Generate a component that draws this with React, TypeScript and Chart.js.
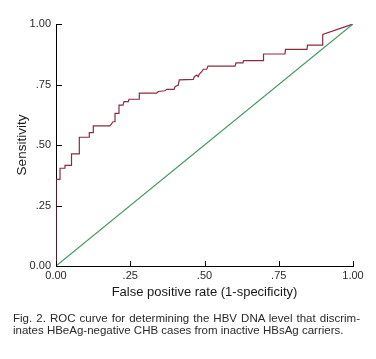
import React, { useEffect, useRef } from "react";
import { Chart, registerables } from "chart.js";

Chart.register(...registerables);

// ROC curve points (false positive rate, sensitivity)
const rocFpr = [
  0, 0, 0.0135, 0.0135, 0.0303, 0.0303, 0.0522, 0.0522, 0.0785, 0.0785,
  0.1121, 0.1121, 0.1256, 0.1256, 0.1818, 0.1919, 0.1987, 0.1987, 0.2121, 0.2121,
  0.2256, 0.229, 0.2434, 0.2458, 0.2805, 0.2805, 0.339, 0.3444, 0.367, 0.3727,
  0.3973, 0.4007, 0.4118, 0.4152, 0.4623, 0.4657, 0.4737, 0.4791, 0.4825, 0.4906,
  0.496, 0.5074, 0.5118, 0.6027, 0.6061, 0.6296, 0.6313, 0.697, 0.6987, 0.771,
  0.7727, 0.845, 0.8468, 0.8973, 0.898, 1,
];
const rocTpr = [
  0, 0.358, 0.358, 0.404, 0.404, 0.416, 0.416, 0.463, 0.463, 0.532,
  0.532, 0.551, 0.551, 0.579, 0.579, 0.596, 0.596, 0.631, 0.631, 0.665,
  0.665, 0.679, 0.679, 0.689, 0.689, 0.714, 0.714, 0.721, 0.724, 0.73,
  0.73, 0.741, 0.748, 0.769, 0.771, 0.782, 0.789, 0.782, 0.793, 0.803,
  0.813, 0.813, 0.826, 0.826, 0.839, 0.839, 0.849, 0.849, 0.876, 0.876,
  0.895, 0.895, 0.913, 0.913, 0.957, 1,
];
// Reference line
const refFpr = [0, 1];
const refTpr = [0, 1];

const xTickLabels = ["0.00", ".25", ".50", ".75", "1.00"];
const yTickLabels = ["0.00", ".25", ".50", ".75", "1.00"];

const xTitle = "False positive rate (1-specificity)";
const yTitle = "Sensitivity";
const captionLine1 = "Fig. 2. ROC curve for determining the HBV DNA level that discrim-";
const captionLine2 = "inates HBeAg-negative CHB cases from inactive HBsAg carriers.";

const FONT = "'Liberation Sans', Arial, sans-serif";

const inwardTicks = {
  id: "inwardTicks",
  afterDraw(chart: any) {
    const ctx = chart.ctx;
    const xs = chart.scales.x;
    const ys = chart.scales.y;
    const area = chart.chartArea;
    ctx.save();
    ctx.strokeStyle = "#000";
    ctx.lineWidth = 1;
    ctx.beginPath();
    xs.ticks.forEach((t: any) => {
      const px = Math.round(xs.getPixelForValue(t.value)) + 0.5;
      ctx.moveTo(px, area.bottom);
      ctx.lineTo(px, area.bottom - 5);
    });
    ys.ticks.forEach((t: any) => {
      const py = Math.round(ys.getPixelForValue(t.value)) + 0.5;
      ctx.moveTo(area.left, py);
      ctx.lineTo(area.left + 6, py);
    });
    ctx.stroke();
    ctx.restore();
  },
};

export default function App() {
  const ref = useRef<HTMLCanvasElement | null>(null);

  useEffect(() => {
    if (!ref.current) return;
    const chart = new Chart(ref.current, {
      type: "scatter",
      data: {
        datasets: [
          {
            data: refFpr.map((x, i) => ({ x, y: refTpr[i] })),
            showLine: true,
            borderColor: "#3f9a5e",
            borderWidth: 1.2,
            pointRadius: 0,
            tension: 0,
          },
          {
            data: rocFpr.map((x, i) => ({ x, y: rocTpr[i] })),
            showLine: true,
            borderColor: "#8c2b3d",
            borderWidth: 1.2,
            pointRadius: 0,
            tension: 0,
          },
        ],
      },
      options: {
        animation: false,
        responsive: false,
        devicePixelRatio: 1,
        layout: { padding: { top: 24, right: 23, bottom: 59, left: 0 } },
        plugins: {
          legend: { display: false },
          tooltip: { enabled: false },
        },
        scales: {
          x: {
            type: "linear",
            min: 0,
            max: 1,
            afterFit: (s: any) => {
              s.height = 34;
            },
            grid: { display: false, drawTicks: false },
            border: { display: true, color: "#000", width: 1 },
            ticks: {
              stepSize: 0.25,
              padding: 3,
              maxRotation: 0,
              color: "#2a2a2a",
              font: { family: FONT, size: 11 },
              callback: (_v: any, i: number) => xTickLabels[i],
            },
            title: {
              display: true,
              text: xTitle,
              color: "#1a1a1a",
              font: { family: FONT, size: 13 },
              padding: { top: 0, bottom: 0 },
            },
          },
          y: {
            type: "linear",
            min: 0,
            max: 1,
            afterFit: (s: any) => {
              s.width = 56;
            },
            grid: { display: false, drawTicks: false },
            border: { display: true, color: "#000", width: 1 },
            ticks: {
              stepSize: 0.25,
              padding: 5,
              color: "#2a2a2a",
              font: { family: FONT, size: 11 },
              callback: (_v: any, i: number) => yTickLabels[i],
            },
            title: {
              display: true,
              text: yTitle,
              color: "#1a1a1a",
              font: { family: FONT, size: 13.5 },
              padding: { top: 14, bottom: 0 },
            },
          },
        },
      },
      plugins: [inwardTicks],
    });
    return () => chart.destroy();
  }, []);

  return (
    <div style={{ position: "absolute", left: 0, top: 0, width: 376, height: 359, background: "#fff" }}>
      <canvas ref={ref} width={376} height={359} style={{ position: "absolute", left: 0, top: 0 }} />
      <div
        style={{
          position: "absolute",
          left: 13,
          top: 312,
          width: 347,
          fontFamily: FONT,
          fontSize: 11.5,
          lineHeight: "12px",
          color: "#2a2a2a",
        }}
      >
        <div style={{ textAlign: "justify", textAlignLast: "justify" }}>{captionLine1}</div>
        <div style={{ whiteSpace: "nowrap" }}>{captionLine2}</div>
      </div>
    </div>
  );
}
